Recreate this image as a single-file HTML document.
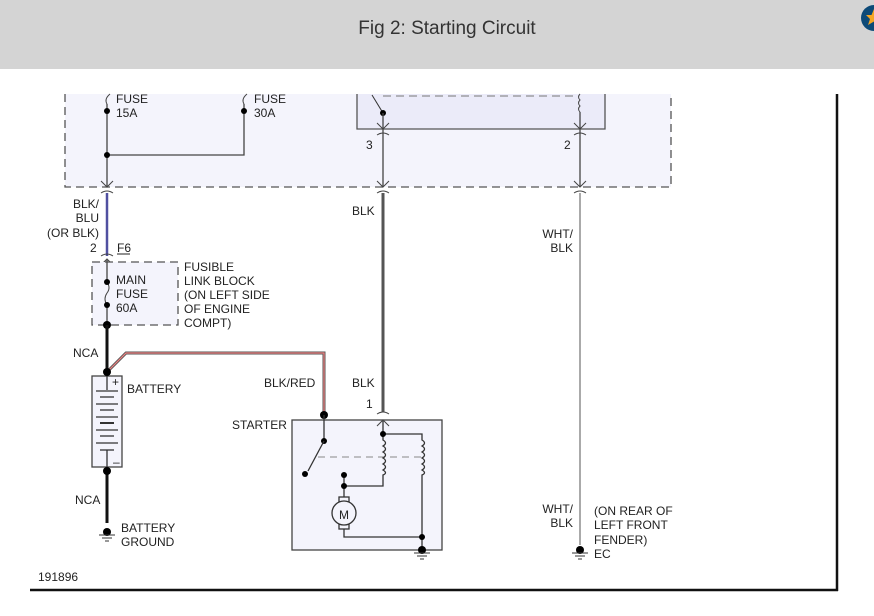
<!DOCTYPE html>
<html><head><style>
html,body{margin:0;padding:0;width:874px;height:616px;overflow:hidden;background:#fff;font-family:"Liberation Sans",sans-serif}
.hdr{position:absolute;left:0;top:0;width:874px;height:69px;background:#d4d4d4}
.hdr span{position:absolute;left:0;width:894px;top:18px;text-align:center;font-size:19px;color:#333}
svg{position:absolute;left:0;top:0}
text{font-family:"Liberation Sans",sans-serif;font-size:12px;fill:#222}
</style></head><body>
<div class="hdr"><span>Fig 2: Starting Circuit</span></div>
<svg width="874" height="616" viewBox="0 0 874 616">
<circle cx="874" cy="18" r="13" fill="#0d4a78"/>
<polygon points="874,9 876.5,15 882,15 878,19 880,25 874,21.5 868,25 870,19 866,15 871.5,15" fill="#f6a623"/>
<!-- frame -->
<line x1="837" y1="94" x2="837" y2="591" stroke="#111" stroke-width="2.5"/>
<line x1="30" y1="590" x2="838" y2="590" stroke="#111" stroke-width="2.5"/>
<!-- top dashed box -->
<rect x="65" y="94" width="606" height="93" fill="#f4f4fc"/>
<path d="M65,94 V187 H671 V94" fill="none" stroke="#555" stroke-width="1.3" stroke-dasharray="8,5"/>
<rect x="357" y="94" width="248" height="35" fill="#ebebf9"/>
<path d="M357,94 V129 H605 V94" fill="none" stroke="#555" stroke-width="1.3"/>
<line x1="383" y1="96" x2="577" y2="96" stroke="#777" stroke-dasharray="8,5"/>
<line x1="372" y1="95" x2="383" y2="113" stroke="#333"/>
<circle cx="383" cy="113" r="3" fill="#000"/>
<line x1="383" y1="113" x2="383" y2="187" stroke="#444" stroke-width="1.3"/>
<path d="M580,94 q-3,3 0,6 q-3,3 0,6 q-3,3 0,6" fill="none" stroke="#444"/>
<line x1="580" y1="112" x2="580" y2="187" stroke="#444" stroke-width="1.3"/>
<g fill="none" stroke="#444" stroke-width="1">
<path d="M377,123 l6,6 l6,-6 M574,123 l6,6 l6,-6"/>
<path d="M377,135 q6,-4 12,0 M574,135 q6,-4 12,0"/>
<path d="M101,181 l6,6 l6,-6 M377,181 l6,6 l6,-6 M574,181 l6,6 l6,-6"/>
<path d="M101,193 q6,-4 12,0 M377,193 q6,-4 12,0 M574,193 q6,-4 12,0"/>
</g>
<text x="366" y="149">3</text><text x="564" y="149">2</text>
<!-- fuses -->
<path d="M110,94 q-6,5 -3,10" fill="none" stroke="#444"/>
<path d="M247,94 q-6,5 -3,10" fill="none" stroke="#444"/>
<line x1="107" y1="104" x2="107" y2="187" stroke="#444" stroke-width="1.3"/>
<path d="M244,104 V155 H107" fill="none" stroke="#444" stroke-width="1.3"/>
<circle cx="107" cy="111" r="3" fill="#000"/><circle cx="244" cy="111" r="3" fill="#000"/><circle cx="107" cy="155" r="3" fill="#000"/>
<text x="116" y="103">FUSE</text><text x="116" y="117">15A</text>
<text x="254" y="103">FUSE</text><text x="254" y="117">30A</text>
<!-- BLK/BLU -->
<line x1="107" y1="193" x2="107" y2="256" stroke="#5050a0" stroke-width="2.5"/>
<text x="99" y="208" text-anchor="end">BLK/</text><text x="99" y="222" text-anchor="end">BLU</text><text x="99" y="237" text-anchor="end">(OR BLK)</text>
<text x="90" y="252">2</text><text x="117" y="252">F6</text><line x1="117" y1="254" x2="130" y2="254" stroke="#222"/>
<path d="M101,256 q6,-4 12,0 M101,265 l6,-6 l6,6" fill="none" stroke="#444"/>
<rect x="92" y="262" width="86" height="63" fill="#f4f4fc" stroke="#555" stroke-width="1.3" stroke-dasharray="8,5"/>
<line x1="107" y1="260" x2="107" y2="282" stroke="#444" stroke-width="1.3"/>
<path d="M107,282 q4,6 0,11 q-4,6 0,12" fill="none" stroke="#444"/>
<line x1="107" y1="305" x2="107" y2="325" stroke="#444" stroke-width="1.3"/>
<circle cx="107" cy="282" r="3" fill="#000"/><circle cx="107" cy="305" r="3" fill="#000"/><circle cx="107" cy="325" r="4" fill="#000"/>
<text x="116" y="284">MAIN</text><text x="116" y="298">FUSE</text><text x="116" y="312">60A</text>
<text x="184" y="271">FUSIBLE</text><text x="184" y="285">LINK BLOCK</text><text x="184" y="299">(ON LEFT SIDE</text><text x="184" y="313">OF ENGINE</text><text x="184" y="327">COMPT)</text>
<!-- battery -->
<line x1="107" y1="325" x2="107" y2="372" stroke="#111" stroke-width="3"/>
<text x="73" y="357">NCA</text>
<path d="M107,372 L126,353 H324 V415" fill="none" stroke="#555" stroke-width="3"/>
<path d="M107,372 L126,353 H324 V415" fill="none" stroke="#f08080" stroke-width="1.2"/>
<rect x="92" y="376" width="30" height="91" fill="#f4f4fc" stroke="#444" stroke-width="1.3"/>
<circle cx="107" cy="372" r="4" fill="#000"/>
<text x="112" y="386" font-size="10">+</text>
<g stroke="#333" stroke-width="1.3">
<line x1="107" y1="376" x2="107" y2="390"/>
<line x1="96" y1="391" x2="118" y2="391"/><line x1="100" y1="397" x2="114" y2="397"/>
<line x1="96" y1="404" x2="118" y2="404"/><line x1="100" y1="410" x2="114" y2="410"/>
<line x1="96" y1="417" x2="118" y2="417"/><line x1="100" y1="423" x2="114" y2="423" stroke-width="2"/>
<line x1="96" y1="430" x2="118" y2="430"/><line x1="100" y1="436" x2="114" y2="436"/>
<line x1="96" y1="443" x2="118" y2="443"/><line x1="100" y1="450" x2="114" y2="450"/>
<line x1="107" y1="450" x2="107" y2="467"/>
</g>
<text x="113" y="466" font-size="10">–</text>
<text x="127" y="393">BATTERY</text>
<line x1="107" y1="470" x2="107" y2="523" stroke="#111" stroke-width="3"/>
<circle cx="107" cy="471" r="4" fill="#000"/>
<text x="75" y="504">NCA</text>
<circle cx="107" cy="532" r="4" fill="#000"/>
<g stroke="#333"><line x1="99" y1="535" x2="115" y2="535"/><line x1="102" y1="538" x2="112" y2="538"/><line x1="105" y1="541" x2="109" y2="541"/></g>
<text x="121" y="532">BATTERY</text><text x="121" y="546">GROUND</text>
<!-- BLK wire -->
<line x1="383" y1="193" x2="383" y2="412" stroke="#555" stroke-width="3"/>
<text x="352" y="215">BLK</text><text x="352" y="387">BLK</text><text x="366" y="408">1</text>
<text x="264" y="387">BLK/RED</text><text x="232" y="429">STARTER</text>
<!-- starter -->
<rect x="292" y="420" width="150" height="130" fill="#f4f4fc" stroke="#444" stroke-width="1.3"/>
<path d="M377,414 q6,-4 12,0 M377,426 l6,-6 l6,6" fill="none" stroke="#444"/>
<circle cx="324" cy="415" r="4" fill="#000"/>
<line x1="324" y1="415" x2="324" y2="441" stroke="#333" stroke-width="1.3"/>
<circle cx="324" cy="441" r="3" fill="#000"/>
<line x1="324" y1="441" x2="308" y2="471" stroke="#333" stroke-width="1.3"/>
<circle cx="305" cy="474" r="3" fill="#000"/>
<line x1="318" y1="457" x2="422" y2="457" stroke="#888" stroke-dasharray="7,5"/>
<g fill="none" stroke="#333" stroke-width="1.3">
<path d="M383,421 V440 q5,3 0,6 q5,3 0,6 q5,3 0,6 q5,3 0,6 q5,3 0,6 q5,3 0,5 V486 H344"/>
<path d="M383,434 H422 V440 q5,3 0,6 q5,3 0,6 q5,3 0,6 q5,3 0,6 q5,3 0,6 q5,3 0,5 V550"/>
<path d="M344,475 V497 M344,529 V537 H422"/>
<rect x="339" y="497" width="10" height="5"/><rect x="339" y="524" width="10" height="5"/>
</g>
<circle cx="344" cy="513" r="12" fill="#f4f4fc" stroke="#333" stroke-width="1.3"/>
<text x="344" y="519" text-anchor="middle" font-size="15">M</text>
<circle cx="383" cy="434" r="3" fill="#000"/><circle cx="344" cy="475" r="3" fill="#000"/><circle cx="344" cy="486" r="3" fill="#000"/>
<circle cx="422" cy="537" r="3" fill="#000"/><circle cx="422" cy="550" r="4" fill="#000"/>
<g stroke="#333"><line x1="414" y1="553" x2="430" y2="553"/><line x1="417" y1="556" x2="427" y2="556"/><line x1="420" y1="559" x2="424" y2="559"/></g>
<!-- WHT/BLK -->
<line x1="580" y1="193" x2="580" y2="545" stroke="#aaa" stroke-width="2"/>
<text x="573" y="238" text-anchor="end">WHT/</text><text x="573" y="252" text-anchor="end">BLK</text>
<text x="573" y="513" text-anchor="end">WHT/</text><text x="573" y="527" text-anchor="end">BLK</text>
<circle cx="580" cy="550" r="4" fill="#000"/>
<g stroke="#333"><line x1="572" y1="553" x2="588" y2="553"/><line x1="575" y1="556" x2="585" y2="556"/><line x1="578" y1="559" x2="582" y2="559"/></g>
<text x="594" y="515">(ON REAR OF</text><text x="594" y="529">LEFT FRONT</text><text x="594" y="544">FENDER)</text><text x="594" y="558">EC</text>
<text x="38" y="581">191896</text>
</svg>
</body></html>
